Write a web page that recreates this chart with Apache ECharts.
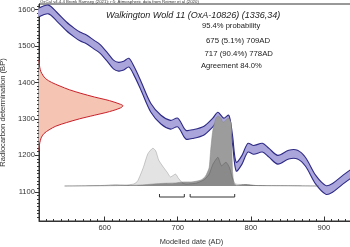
<!DOCTYPE html>
<html>
<head>
<meta charset="utf-8">
<script src="https://cdn.jsdelivr.net/npm/echarts@6/dist/echarts.min.js"></script>
<style>
  html, body { margin: 0; padding: 0; background: #fff; }
  #chart { width: 350px; height: 247px; }
</style>
</head>
<body>
<div id="chart"></div>
<script>
// calibration curve (centre of the band)
const calYear = [510, 523, 534, 548, 558, 566, 575, 585, 593, 603, 612, 619, 626, 633, 640, 649, 663, 677, 690, 700, 711, 722, 736, 748, 755, 763, 770, 775, 780, 788, 796, 804, 816, 825, 837, 852, 864, 875, 889, 903, 912, 926, 937, 940];
const calBP = [1592, 1600, 1581, 1553, 1537, 1526, 1518, 1504, 1493, 1471, 1449, 1443, 1446, 1454, 1432, 1394, 1331, 1298, 1284, 1290, 1257, 1259, 1268, 1290, 1306, 1290, 1298, 1243, 1169, 1188, 1221, 1215, 1221, 1207, 1188, 1202, 1202, 1182, 1133, 1105, 1111, 1133, 1149, 1153];
const calErr = 12;

// radiocarbon measurement (red, on the y axis)
const redBP = [1462, 1450, 1440, 1430, 1420, 1410, 1400, 1390, 1380, 1370, 1360, 1350, 1340, 1336, 1330, 1320, 1310, 1300, 1290, 1280, 1270, 1260, 1250, 1240, 1230, 1212];
const redDens = [0, 0.004, 0.01, 0.022, 0.045, 0.08, 0.15, 0.25, 0.36, 0.5, 0.66, 0.84, 0.97, 1.0, 0.97, 0.84, 0.66, 0.48, 0.33, 0.2, 0.12, 0.06, 0.03, 0.015, 0.006, 0];

// unmodelled likelihood (light grey)
const likeYear = [545, 595, 615, 629, 640, 645, 653, 659, 666, 670, 674, 681, 686, 690, 697, 701, 707, 712, 725, 736, 743, 748, 755, 760, 766, 771, 775, 779, 793, 807, 850, 893];
const likeDens = [0, 0.007, 0.02, 0.014, 0.03, 0.07, 0.27, 0.46, 0.54, 0.5, 0.37, 0.26, 0.19, 0.13, 0.17, 0.11, 0.04, 0.03, 0.04, 0.09, 0.17, 0.31, 0.41, 0.29, 0.34, 0.26, 0.11, 0.03, 0.02, 0.007, 0.004, 0];

// modelled posterior (dark grey)
const postYear = [545, 600, 622, 649, 677, 697, 708, 718, 732, 738, 743, 745, 748, 752, 755, 759, 762, 766, 769, 773, 774, 775, 777, 781, 793, 807, 850, 893];
const postDens = [0, 0.004, 0.007, 0.014, 0.036, 0.043, 0.057, 0.057, 0.086, 0.14, 0.26, 0.5, 0.79, 0.96, 1.0, 0.97, 0.91, 0.94, 0.97, 0.9, 0.57, 0.21, 0.04, 0.007, 0.02, 0.007, 0.004, 0];

// 95.4% ranges
const rangeFrom = [675, 717];
const rangeTo = [709, 778];
const rangePct = ["5.1", "90.4"];

const xTicks = [600, 700, 800, 900];
const yTicks = [1100, 1200, 1300, 1400, 1500, 1600];

const xMin = 510, xMax = 940, yMin = 1020, yMax = 1615;
const axisColor = "#333";

function renderBand(params, api) {
  if (params.dataIndex !== 0) return null;
  const upper = calYear.map((yr, i) => api.coord([yr, calBP[i] + calErr]));
  const lower = calYear.map((yr, i) => api.coord([yr, calBP[i] - calErr]));
  const edge = { stroke: "#2e2a86", lineWidth: 1.1, fill: null };
  return {
    type: "group",
    children: [
      { type: "polygon", shape: { points: upper.concat(lower.slice().reverse()), smooth: 0.3 }, style: { fill: "#aaa6dc" } },
      { type: "polyline", shape: { points: upper, smooth: 0.3 }, style: edge },
      { type: "polyline", shape: { points: lower, smooth: 0.3 }, style: edge },
    ],
  };
}

function renderRed(params, api) {
  if (params.dataIndex !== 0) return null;
  const curve = redBP.map((bp, i) => api.coord([redDens[i], bp]));
  return {
    type: "group",
    children: [
      { type: "polygon", shape: { points: curve, smooth: 0.3 }, style: { fill: "#f6c4b3" } },
      { type: "polyline", shape: { points: curve, smooth: 0.3 }, style: { stroke: "#c8202a", lineWidth: 1, fill: null } },
    ],
  };
}

function renderBracket(params, api) {
  const a = api.coord([api.value(0), 0]);
  const b = api.coord([api.value(1), 0]);
  const y = a[1] + 11;
  return {
    type: "polyline",
    shape: { points: [[a[0], y - 3], [a[0], y], [b[0], y], [b[0], y - 3]] },
    style: { stroke: "#333", lineWidth: 1, fill: null },
  };
}

function note(text, left, top, size, extra) {
  return {
    text: text, left: left, top: top, padding: 0,
    textStyle: Object.assign({ fontSize: size, fontWeight: "normal", color: "#222" }, extra || {}),
  };
}

const myChart = echarts.init(document.getElementById("chart"));

const option = {
  animation: false,
  textStyle: { fontFamily: "Liberation Sans" },
  title: [
    note("OxCal v4.4.4 Bronk Ramsey (2021); r:5; Atmospheric data from Reimer et al (2020)", 40, 0, 4.3, { color: "#333" }),
    note("Walkington Wold 11 (OxA-10826) (1336,34)", 106, 11, 9, { fontStyle: "italic" }),
    note("95.4% probability", 202, 21.7, 7.6),
    note(rangeFrom[0] + " (" + rangePct[0] + "%) " + rangeTo[0] + "AD", 206, 37.1, 7.8),
    note(rangeFrom[1] + " (" + rangePct[1] + "%) " + rangeTo[1] + "AD", 204.5, 50.1, 7.8),
    note("Agreement 84.0%", 201, 62.2, 7.6),
  ],
  grid: {
    left: 39, top: 4, width: 314, height: 217,
    outerBoundsMode: "none", containLabel: false,
    show: true, borderColor: axisColor, borderWidth: 1,
  },
  xAxis: [
    {
      type: "value", position: "bottom", min: xMin, max: xMax,
      name: "Modelled date (AD)", nameLocation: "middle", nameGap: 17,
      nameTextStyle: { fontSize: 7.4, color: axisColor, padding: [0, 9, 0, 0] },
      axisLine: { show: true, onZero: false, lineStyle: { color: axisColor } },
      axisTick: { show: true, inside: true, length: 4.5, customValues: xTicks, lineStyle: { color: axisColor } },
      minorTick: { show: true, splitNumber: 10, length: 2, lineStyle: { color: axisColor } },
      axisLabel: { fontSize: 7.6, color: axisColor, margin: 3, customValues: xTicks, formatter: (v) => String(v) },
      splitLine: { show: false },
    },
    {
      // density scale for the measurement
      type: "value", show: false, min: 0, max: 3.74,
      axisLine: { onZero: false },
      splitLine: { show: false },
    },
  ],
  yAxis: [
    {
      type: "value", position: "left", min: yMin, max: yMax,
      name: "Radiocarbon determination (BP)", nameLocation: "middle", nameGap: 17,
      nameTextStyle: { fontSize: 7.6, color: axisColor },
      axisLine: { show: true, onZero: false, lineStyle: { color: axisColor } },
      axisTick: { show: true, inside: false, length: 4, customValues: yTicks, lineStyle: { color: axisColor } },
      minorTick: { show: true, splitNumber: 10, length: 2, lineStyle: { color: axisColor } },
      axisLabel: { fontSize: 7.6, color: axisColor, margin: 4, customValues: yTicks, formatter: (v) => String(v) },
      splitLine: { show: false },
    },
    {
      // density scale for the date distributions
      type: "value", show: false, min: -0.5, max: 2.6,
      axisLine: { onZero: false },
      splitLine: { show: false },
    },
  ],
  series: [
    {
      type: "line", xAxisIndex: 0, yAxisIndex: 1,
      data: postYear.map((yr, i) => [yr, postDens[i]]),
      smooth: 0.2, symbol: "none",
      lineStyle: { color: "#8a8a8a", width: 0.6 },
      areaStyle: { color: "#9c9c9c", opacity: 1 },
    },
    {
      type: "line", xAxisIndex: 0, yAxisIndex: 1,
      data: likeYear.map((yr, i) => [yr, likeDens[i]]),
      smooth: 0.2, symbol: "none",
      lineStyle: { color: "rgba(0,0,0,0.3)", width: 0.6 },
      areaStyle: { color: "rgba(0,0,0,0.11)", opacity: 1 },
    },
    {
      type: "custom", xAxisIndex: 0, yAxisIndex: 1,
      data: rangeFrom.map((v, i) => [v, rangeTo[i]]),
      renderItem: renderBracket,
    },
    {
      type: "custom", xAxisIndex: 0, yAxisIndex: 0,
      data: calYear.map((yr, i) => [yr, calBP[i]]),
      renderItem: renderBand,
    },
    {
      type: "custom", xAxisIndex: 1, yAxisIndex: 0,
      data: redBP.map((bp, i) => [redDens[i], bp]),
      renderItem: renderRed,
    },
  ],
};

myChart.setOption(option);

// if the axis ticks did not come out, put them in from the axis scales
function ensureTicks() {
  const shown = myChart.getZr().storage.getDisplayList(true).filter((el) =>
    el.type === "line" && !el.invisible && el.shape &&
    Math.hypot(el.shape.x2 - el.shape.x1, el.shape.y2 - el.shape.y1) < 6
  );
  if (shown.length > 20) return;
  const left = myChart.convertToPixel({ xAxisIndex: 0 }, xMin);
  const bottom = myChart.convertToPixel({ yAxisIndex: 0 }, yMin);
  const tickStyle = { stroke: axisColor, lineWidth: 1 };
  const ticks = [];
  for (let v = xMin + 10; v < xMax; v += 10) {
    const x = Math.round(myChart.convertToPixel({ xAxisIndex: 0 }, v)) + 0.5;
    const len = xTicks.indexOf(v) >= 0 ? 4.5 : 2;
    ticks.push({ type: "line", silent: true, shape: { x1: x, y1: bottom, x2: x, y2: bottom - len }, style: tickStyle });
  }
  for (let v = yMin + 10; v < yMax; v += 10) {
    const y = Math.round(myChart.convertToPixel({ yAxisIndex: 0 }, v)) + 0.5;
    if (yTicks.indexOf(v) >= 0) {
      ticks.push({ type: "line", silent: true, shape: { x1: left - 4, y1: y, x2: left, y2: y }, style: tickStyle });
    } else {
      ticks.push({ type: "line", silent: true, shape: { x1: left, y1: y, x2: left + 2, y2: y }, style: tickStyle });
    }
  }
  myChart.setOption({ graphic: { elements: ticks } });
}
ensureTicks();
</script>
</body>
</html>
